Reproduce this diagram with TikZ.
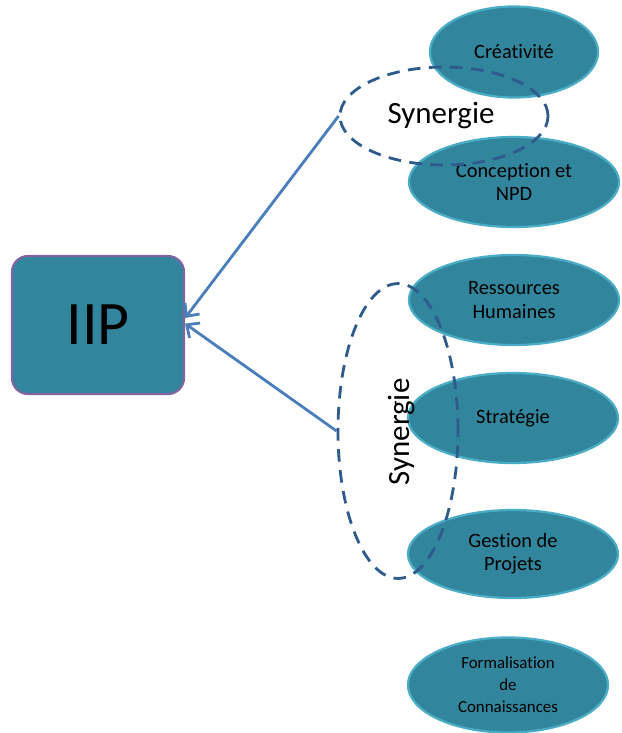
\documentclass[tikz,border=0pt]{standalone}
\usepackage{fontspec}
\setmainfont{Carlito}[Ligatures=NoCommon]
\usepackage{xcolor}
\usetikzlibrary{arrows.meta,positioning,shapes.geometric}

\definecolor{tealfill}{HTML}{31859C}
\definecolor{tealedge}{HTML}{4BACC6}
\definecolor{boxedge}{HTML}{8064A2}
\definecolor{dashblue}{HTML}{2E5A8C}
\definecolor{arrowblue}{HTML}{4A7EBB}

\begin{document}
\begin{tikzpicture}[x=0.025cm,y=-0.025cm,
    field/.style={ellipse,draw=tealedge,line width=1.6pt,fill=tealfill,
      align=center,inner sep=0pt,font=\fontsize{14.5}{16.5}\selectfont},
    synergy/.style={ellipse,draw=dashblue,line width=2pt,
      dash pattern=on 9pt off 6pt,inner sep=0pt},
    link/.style={draw=arrowblue,line width=2pt,-{Straight Barb[length=7pt,width=13pt]}}]
      \useasboundingbox (0,0) rectangle (621,733);
      \node[rectangle,rounded corners=0.4cm,draw=boxedge,line width=1.5pt,fill=tealfill,
        minimum width=4.3cm,minimum height=3.45cm,inner sep=0pt,
        font=\fontsize{44}{50}\selectfont] (iip) at (98,325) {IIP};
      \node[field,minimum width=4.2cm,minimum height=2.275cm] (crea) at (514,52) {Créativité};
      \node[field,minimum width=5.25cm,minimum height=2.25cm] (npd) at (514,182) {Conception et\\NPD};
      \node[field,minimum width=5.25cm,minimum height=2.25cm] (rh) at (514,300) {Ressources\\Humaines};
      \node[field,minimum width=5.25cm,minimum height=2.25cm] (strat) at (513,418) {Stratégie};
      \node[field,minimum width=5.25cm,minimum height=2.2cm] (gp) at (513,554) {Gestion de\\Projets};
      \node[field,minimum width=5cm,minimum height=2.375cm,
        font=\fontsize{12}{15.6}\selectfont] (form) at (508,685) {Formalisation\\de\\Connaissances};
      \node[synergy,minimum width=5.2cm,minimum height=2.45cm] (syn1) at (444,116) {};
      \node[synergy,minimum width=3cm,minimum height=7.37cm] (syn2) at (398,431) {};
      \node[font=\fontsize{22}{26}\selectfont] (lab1) at (441,116) {Synergie};
      \node[font=\fontsize{22}{26}\selectfont,rotate=90] (lab2) at (402,432) {Synergie};
      \draw[link] (syn1.west) -- ([yshift=5pt]iip.east);
      \draw[link] (syn2.west) -- ([yshift=1pt]iip.east);
    \end{tikzpicture}
\end{document}
